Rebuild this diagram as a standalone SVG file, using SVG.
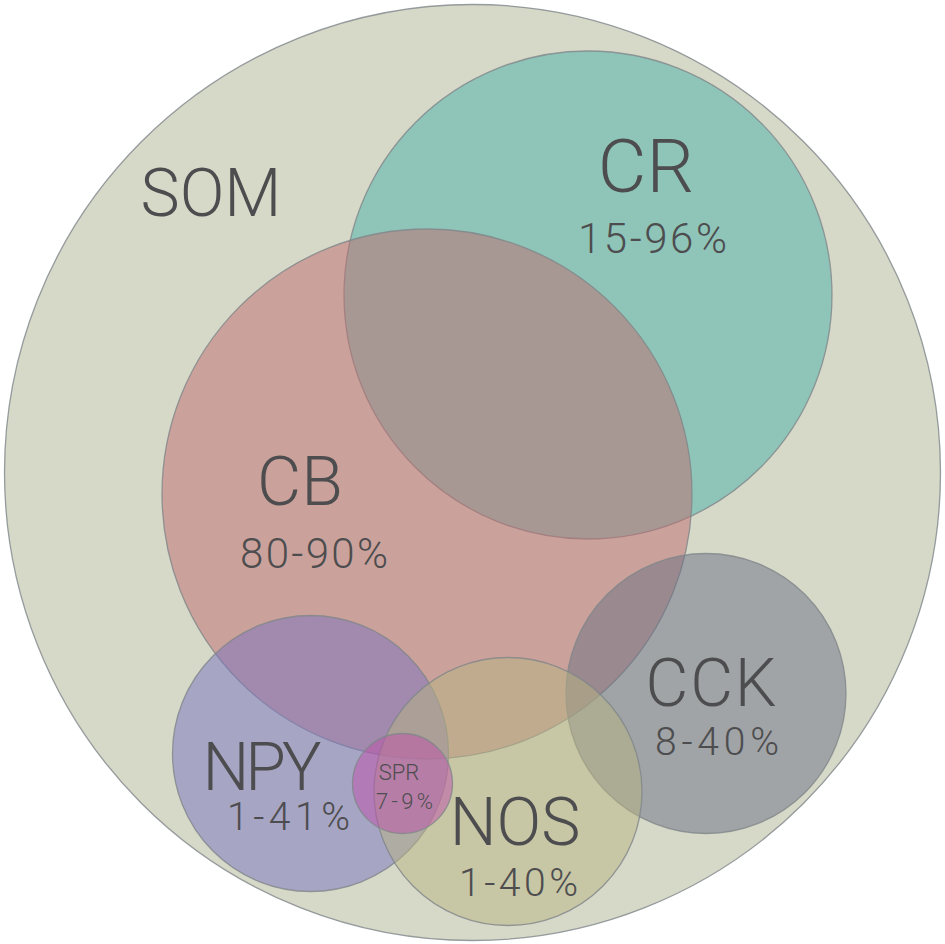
<svg xmlns="http://www.w3.org/2000/svg" width="945" height="944" viewBox="0 0 945 944">
<style>
.c{stroke:#7f868a;stroke-width:1.3;stroke-opacity:0.8}
.s{fill-opacity:0.5}
text{font-family:Roboto,"Liberation Sans",sans-serif;font-weight:300;fill:#4d4d4f;text-anchor:middle}
.big{font-size:66px}
.pct{font-size:39px}
.sm{font-size:22px}
</style>
<rect width="945" height="944" fill="#ffffff"/>
<g id="SOM">
<circle class="c" cx="472.5" cy="472.5" r="468" fill="#d6d8c8"/>
<text class="big" x="211" y="216">SOM</text>
</g>
<g id="CR">
<circle class="c s" cx="588" cy="295" r="244" fill="#48b2a8"/>
</g>
<g id="CB">
<circle class="c s" cx="427" cy="494" r="265" fill="#c06c6e"/>
</g>
<g id="CCK">
<circle class="c s" cx="706" cy="693.5" r="140" fill="#6a7084"/>
</g>
<g id="NPY">
<circle class="c s" cx="310.5" cy="753.5" r="138" fill="#7872c0"/>
</g>
<g id="NOS">
<circle class="c s" cx="508" cy="791.5" r="134" fill="#b8b482"/>
</g>
<g id="SPR">
<circle class="c s" cx="402.5" cy="783.5" r="50" fill="#be50aa"/>
</g>
<g id="labels">
<text style="font-size:75px" x="646" y="192">CR</text>
<text class="pct" style="font-size:42px" x="652.5" y="253" textLength="149" lengthAdjust="spacing">15-96%</text>
<text style="font-size:68px" x="300" y="505">CB</text>
<text class="pct" style="font-size:42px" x="314" y="568" textLength="148" lengthAdjust="spacing">80-90%</text>
<text class="big" x="711" y="706" textLength="131" lengthAdjust="spacing">CCK</text>
<text class="pct" x="717" y="755" textLength="124" lengthAdjust="spacing">8-40%</text>
<text class="big" x="262" y="790" textLength="119" lengthAdjust="spacing">NPY</text>
<text class="pct" x="288.5" y="830" textLength="123" lengthAdjust="spacing">1-41%</text>
<text class="big" x="515" y="845">NOS</text>
<text class="pct" x="518.5" y="896" textLength="119" lengthAdjust="spacing">1-40%</text>
<text class="sm" x="399" y="780">SPR</text>
<text class="sm" x="404.5" y="809" textLength="57" lengthAdjust="spacing">7-9%</text>
</g>
<g id="connectors"/>
</svg>
